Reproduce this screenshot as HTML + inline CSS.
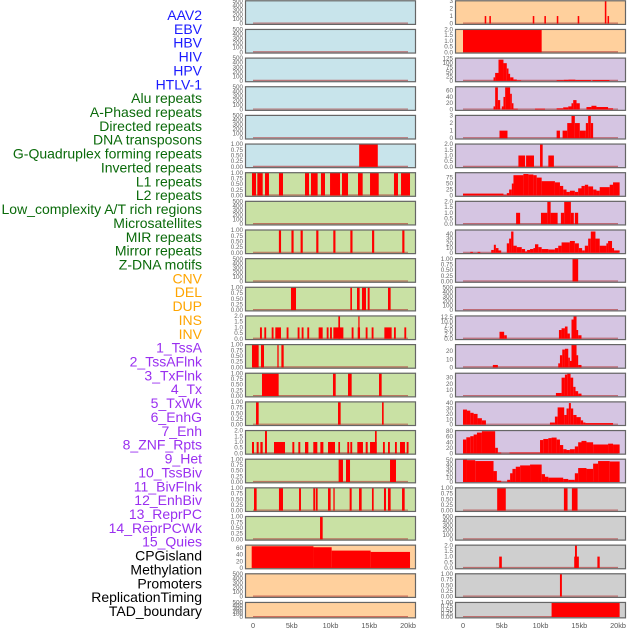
<!DOCTYPE html>
<html><head><meta charset="utf-8"><style>
html,body{margin:0;padding:0;background:#fff;width:630px;height:630px;overflow:hidden}
svg text{font-family:"Liberation Sans",sans-serif}
</style></head><body>
<svg id="chart" width="630" height="630" xmlns="http://www.w3.org/2000/svg"></svg>
<script>
// ---- data ----
const trackLabels = ["AAV2","EBV","HBV","HIV","HPV","HTLV-1","Alu repeats","A-Phased repeats","Directed repeats","DNA transposons","G-Quadruplex forming repeats","Inverted repeats","L1 repeats","L2 repeats","Low_complexity A/T rich regions","Microsatellites","MIR repeats","Mirror repeats","Z-DNA motifs","CNV","DEL","DUP","INS","INV","1_TssA","2_TssAFlnk","3_TxFlnk","4_Tx","5_TxWk","6_EnhG","7_Enh","8_ZNF_Rpts","9_Het","10_TssBiv","11_BivFlnk","12_EnhBiv","13_ReprPC","14_ReprPCWk","15_Quies","CPGisland","Methylation","Promoters","ReplicationTiming","TAD_boundary"];
const labelGroups = [0,0,0,0,0,0,1,1,1,1,1,1,1,1,1,1,1,1,1,2,2,2,2,2,3,3,3,3,3,3,3,3,3,3,3,3,3,3,3,4,4,4,4,4];
const groupColors = ["#1a1aff","#0a6a0a","#ffa500","#9a2ff0","#000000"];
const xTicksKb = [0,5,10,15,20];
const xTickLabels = ["0","5kb","10kb","15kb","20kb"];
const bgLeft = ["b","b","b","b","b","b","g","g","g","g","g","g","g","g","g","g","g","g","g","o","o","o"];
const bgRight = ["o","o","p","p","p","p","p","p","p","p","p","p","p","p","p","p","p","s","s","s","s","s"];
const bgColors = {b:"#c8e4eb",g:"#c9e1a4",o:"#ffd09d",p:"#d5c5e2",s:"#cfcfcf"};
const E = [0,100,200,300,400,500];
const U = [0,0.25,0.5,0.75,1];
const T2 = [0,0.5,1,1.5,2];
const ticksLeft = [E,E,E,E,E,U,U,E,U,E,U,T2,U,U,U,T2,U,U,U,[0,20,40,60],E,E];
const ymaxLeft = [500,500,500,500,500,1,1,500,1,500,1,2,1,1,1,2,1,1,1,68,500,500];
const ticksRight = [[0,1,2,3],T2,[0,25,50,75,100,125],[0,20,40,60],[0,1,2,3],T2,[0,25,50,75],T2,[0,10,20,30,40],U,E,[0,2.5,5,7.5,10,12.5],[0,10,20],[0,10,20,30],[0,10,20,30,40],[0,20,40,60,80],[0,10,20,30,40,50],U,E,T2,U,U];
const ymaxRight = [3,2,128,72,3,2,95,2,48,1,500,13,28,37,42,82,52,1,500,2,1,1];
const spikeW = 0.28;
// left bars [startKb,endKb,value]
const L5 = [[13.7,16.1,1]];
const L6 = [[-0.13,0.39,1],[0.56,1.25,1],[1.55,2.06,1],[3.35,3.87,1],[6.71,7.23,1],[7.48,8.34,1],[8.77,9.29,1],[9.94,11.23,1],[11.48,12.26,1],[13.55,14.15,1],[15.1,16.22,1],[18.19,18.71,1],[19.1,20.26,1]];
const L8spikes = [3.48,5.1,6.28,8.3,10.5,12.7,15.5,19.4];
const L10 = [[4.9,5.55,1],[12.56,12.77,1],[13.42,13.76,1],[14.06,14.58,1],[14.8,15.05,1],[17.42,17.76,1]];
const L11 = [[0.9,1.15,1],[1.46,1.7,1],[2.41,2.65,1],[2.88,3.61,1],[4.34,4.58,1],[5.76,6.0,1],[6.28,6.52,1],[7.01,7.25,1],[8.47,8.99,1],[9.51,9.75,1],[9.94,10.18,1],[10.37,11.66,1],[11.01,11.23,2],[12.73,12.97,1],[13.51,13.81,1],[13.59,13.75,2],[14.54,14.78,1],[15.31,15.55,1],[16.95,17.89,1],[18.19,18.43,1],[19.53,19.77,1]];
const L12 = [[-0.13,0.73,1],[1.03,1.42,1],[3.14,3.31,1],[3.66,3.96,1]];
const L13 = [[1.16,3.31,1],[10.32,10.67,1],[12.26,12.73,1],[16.26,16.6,1]];
const L14 = [[0.39,0.73,1],[10.97,11.31,1],[16.65,16.86,1]];
const L15 = [[-0.13,0.13,1],[0.47,0.73,1],[0.95,1.25,1],[1.55,1.8,2],[2.71,4.13,1],[5.08,5.33,1],[5.85,6.1,1],[6.71,7.14,1],[7.78,8.3,1],[8.69,9.08,1],[9.68,10.58,1],[11.01,11.23,1],[12.17,12.41,1],[12.56,12.8,1],[13.46,14.19,1],[14.54,14.8,1],[15.1,15.96,1],[15.74,15.96,2],[16.77,17.01,1],[17.42,17.66,1],[18.32,18.56,1],[18.97,19.61,1],[19.83,20.07,1]];
const L16 = [[11.05,11.61,1],[12.0,12.52,1],[17.68,18.45,1]];
const L17 = [[0.13,0.47,1],[3.35,3.87,1],[5.94,6.19,1],[7.78,8.0,1],[8.09,8.34,1],[9.68,10.02,1],[10.37,10.54,1],[12.47,12.73,1],[13.68,14.02,1],[15.35,15.57,1],[16.9,17.16,1],[17.42,17.76,1],[19.23,19.57,1]];
const L18 = [[8.65,8.99,1]];
const L19 = [[-0.17,7.8,65],[7.8,10.15,62],[10.15,15.18,52],[15.18,20.26,48]];
// right bars
const R0 = [[2.8,3.0,1],[3.4,3.6,1],[9.0,9.2,1],[10.5,10.7,1],[12.1,12.3,1],[14.8,15.0,1],[18.3,18.5,3],[18.65,18.85,1]];
const R1 = [[0,10.15,2]];
const R2 = [[3.94,4.15,20],[4.15,4.58,45],[4.58,5.22,120],[5.22,5.65,100],[5.65,5.87,70],[5.87,6.08,40],[6.08,6.51,20],[6.51,6.94,8],[6.94,7.5,3],[12.08,13.0,4],[13.0,13.6,6],[13.6,14.5,7],[14.5,16.5,5],[16.7,18.9,5]];
const R3 = [[3.94,4.15,10],[4.15,4.5,70],[4.5,4.8,30],[5.01,5.22,10],[5.22,5.44,40],[5.44,6.08,70],[6.08,6.3,50],[6.3,6.51,20],[6.51,7.07,3],[9.29,10.58,3],[12.08,12.93,4],[12.93,13.58,7],[13.58,14.0,10],[14.0,14.22,20],[14.22,14.65,30],[14.65,15.07,20],[15.93,16.57,8],[16.57,17.22,12],[17.22,18.72,8],[18.72,19.36,4]];
const R4 = [[4.71,5.74,1],[12.08,12.51,1],[12.85,13.45,1],[13.45,14.0,2],[14.0,14.43,3],[14.43,15.07,2],[15.07,15.85,1],[15.85,16.15,2],[16.15,16.49,3],[16.49,16.79,2]];
const R5 = [[7.15,8.01,1],[8.14,9.16,1],[9.94,10.28,2],[11.01,11.73,1]];
const R6 = [[0,5.22,8],[5.22,5.65,3],[5.65,5.95,10],[5.95,6.3,25],[6.3,6.51,50],[6.51,7.79,85],[7.79,8.44,90],[8.44,9.08,88],[9.08,9.51,85],[9.51,10.15,75],[10.15,11.86,60],[11.86,12.51,55],[12.51,12.93,40],[12.93,13.36,25],[13.36,13.79,15],[13.79,14.43,20],[14.43,14.86,15],[14.86,15.29,30],[15.29,15.72,40],[15.72,16.15,45],[16.15,16.79,38],[16.79,17.22,25],[17.22,17.64,20],[17.64,18.93,35],[18.93,19.36,45],[19.36,20.21,55]];
const R7 = [[6.85,7.37,1],[10.06,10.88,1],[10.88,11.31,2],[11.31,12.21,1],[12.63,13.06,1],[13.06,13.92,2],[13.92,14.3,1],[14.43,14.86,1]];
const R8 = [[0.94,1.28,2],[1.88,2.23,2],[3.64,3.98,6],[3.98,4.24,17],[4.24,4.58,10],[4.58,4.93,5],[5.65,5.95,20],[5.95,6.21,30],[6.21,6.51,45],[6.51,6.94,15],[6.94,7.58,12],[7.58,8.01,8],[8.01,8.27,3],[8.27,8.65,6],[8.65,9.08,8],[9.08,9.29,10],[9.29,9.72,18],[9.72,10.15,12],[10.15,11.01,8],[11.01,11.86,7],[11.86,12.29,10],[12.29,12.72,15],[12.72,13.79,22],[13.79,14.43,25],[14.43,14.95,20],[14.95,15.37,10],[15.37,15.72,5],[15.72,16.15,15],[16.15,16.49,30],[16.49,17.09,45],[17.09,17.64,30],[17.64,18.5,15],[18.5,18.72,20],[18.72,19.23,25],[19.23,19.49,10],[19.49,20.21,5]];
const R9 = [[14.13,14.86,1]];
const R11 = [[4.71,5.31,4],[5.31,5.65,2],[12.38,12.72,5],[12.72,13.15,6],[13.15,13.49,7],[13.49,13.79,3],[14.0,14.26,11],[14.26,14.65,13],[14.65,14.86,5],[14.86,15.29,2]];
const R12 = [[3.85,4.5,3],[12.29,12.51,5],[12.51,12.81,15],[12.81,13.15,22],[13.15,13.58,23],[13.58,13.79,12],[13.79,14.0,8],[14.0,14.65,28],[14.65,14.86,15],[14.86,15.29,3]];
const R13 = [[11.99,12.72,5],[12.72,13.15,30],[13.15,13.45,35],[13.45,13.88,37],[13.88,14.22,30],[14.22,14.52,15],[14.52,14.86,8],[14.86,15.29,4]];
const R14 = [[0,0.51,28],[0.51,0.94,26],[0.94,1.37,22],[1.37,1.88,20],[1.88,2.44,12],[2.44,2.96,8],[11.22,11.86,4],[11.86,12.21,15],[12.21,13.06,32],[13.06,13.36,18],[13.36,13.66,30],[13.66,13.92,40],[13.92,14.22,30],[14.22,14.65,18],[14.65,15.2,14],[15.2,15.5,8],[15.5,15.8,4],[15.8,19.36,3]];
const R15 = [[0,0.43,50],[0.43,0.94,58],[0.94,1.37,62],[1.37,1.8,68],[1.8,2.44,75],[2.44,4.15,80],[4.15,4.5,20],[4.5,4.93,3],[6.0,9.94,3],[9.94,10.36,48],[10.36,11.01,52],[11.01,11.43,55],[11.43,12.08,57],[12.08,12.51,50],[12.51,12.93,30],[12.93,13.36,15],[13.36,13.79,12],[13.79,14.43,15],[14.43,14.86,25],[14.86,15.29,40],[15.29,15.93,45],[15.93,16.79,40],[16.79,18.72,32],[18.72,19.36,35],[19.36,20.21,32]];
const R16 = [[0,0.51,52],[0.51,1.58,50],[1.58,3.94,48],[3.94,4.37,25],[4.37,4.93,3],[5.7,6.08,5],[6.08,6.38,20],[6.38,6.81,30],[6.81,7.37,35],[7.37,8.65,38],[8.65,10.15,40],[10.15,10.58,18],[10.58,11.01,12],[11.01,12.93,10],[12.93,13.58,7],[13.58,14.43,5],[14.43,14.86,20],[14.86,15.93,32],[15.93,16.79,30],[16.79,17.43,42],[17.43,18.93,48],[18.93,20.21,47]];
const R17 = [[4.41,5.52,1],[13.02,13.49,1],[14.05,14.78,1]];
const R19 = [[4.67,5.01,1],[14.35,14.95,1],[14.45,14.7,2],[17.34,17.64,1]];
const R20 = [[12.51,12.76,1]];
const R21 = [[11.43,20.21,1]];
const leftBars = [[],[],[],[],[],L5,L6,[],L8spikes.map(c=>[c-spikeW/2,c+spikeW/2,1]),[],L10,L11,L12,L13,L14,L15,L16,L17,L18,L19,[],[]];
const rightBars = [R0,R1,R2,R3,R4,R5,R6,R7,R8,R9,[],R11,R12,R13,R14,R15,R16,R17,[],R19,R20,R21];

// ---- drawing ----
const NS = "http://www.w3.org/2000/svg";
const svg = document.getElementById("chart");
function mk(tag, attrs, parent){const e=document.createElementNS(NS,tag);for(const k in attrs)e.setAttribute(k,attrs[k]);(parent||svg).appendChild(e);return e;}
const PITCH = 28.65, PH = 24.6;
function rowTop(i){return 0.3 + i*PITCH;}
function rowH(i){return i===21?16.4:PH;}
const cols = [{bx:245,bw:171,x0:253,lx:243,side:"left"},{bx:455,bw:171,x0:463,lx:453,side:"right"}];
function xScale(col,kb){return col.x0 + kb*7.75;}
function yScale(i,v,ymax){const t=rowTop(i),h=rowH(i);const y0=t+h-1.3,y1=t+0.6;return y0-(v/ymax)*(y0-y1);}

// labels
const labTop = 15, labStep = (611-15)/(trackLabels.length-1);
trackLabels.forEach((lab,k)=>{
  const t = mk("text",{x:202,y:labTop+k*labStep+5,"text-anchor":"end","font-size":"14",fill:groupColors[labelGroups[k]]});
  
  
  t.textContent = lab;
});

for(let i=0;i<22;i++){
  [0,1].forEach(ci=>{
    const col = cols[ci];
    const bg = ci===0?bgLeft[i]:bgRight[i];
    const ticks = ci===0?ticksLeft[i]:ticksRight[i];
    const ymax = ci===0?ymaxLeft[i]:ymaxRight[i];
    const bars = ci===0?leftBars[i]:rightBars[i];
    const g = mk("g",{});
    
    
    const t = rowTop(i), h = rowH(i);
    const r = mk("rect",{x:col.bx,y:t,width:col.bw,height:h,fill:bgColors[bg]},g);
    
    
    // baseline
    const bl = mk("line",{x1:xScale(col,0),x2:xScale(col,20),y1:yScale(i,0,ymax)-0.5,y2:yScale(i,0,ymax)-0.5,stroke:"#b03030","stroke-width":1.2,opacity:0.6},g);
    
    
    bars.forEach(b=>{
      const x1=xScale(col,b[0]),x2=xScale(col,b[1]);
      const yv=yScale(i,b[2],ymax),y0=yScale(i,0,ymax);
      const br = mk("rect",{x:x1,y:yv,width:Math.max(0.8,x2-x1),height:y0-yv,fill:"#ff0000"},g);
      
      
    });
    const fr = mk("rect",{x:col.bx+0.5,y:t+0.5,width:col.bw-1,height:h-1,fill:"none",stroke:"#666","stroke-width":1.2},g);
    
    
    ticks.forEach(v=>{
      const tt = mk("text",{x:col.lx,y:yScale(i,v,ymax)+2,"text-anchor":"end","font-size":"6.3",fill:"#666"},g);
      
      
      tt.textContent = (ymax===1 && ticks.length===5)? v.toFixed(2) : (ticks===T2||ticks===ticksRight[11]? v.toFixed(1): String(v));
    });
  });
}
// x axis
[0,1].forEach(ci=>{
  const col = cols[ci];
  xTicksKb.forEach((kb,k)=>{
    const tx = mk("text",{x:xScale(col,kb),y:628,"text-anchor":"middle","font-size":"7.3",fill:"#555"});
    
    
    tx.textContent = xTickLabels[k];
  });
});
</script>
</body></html>
